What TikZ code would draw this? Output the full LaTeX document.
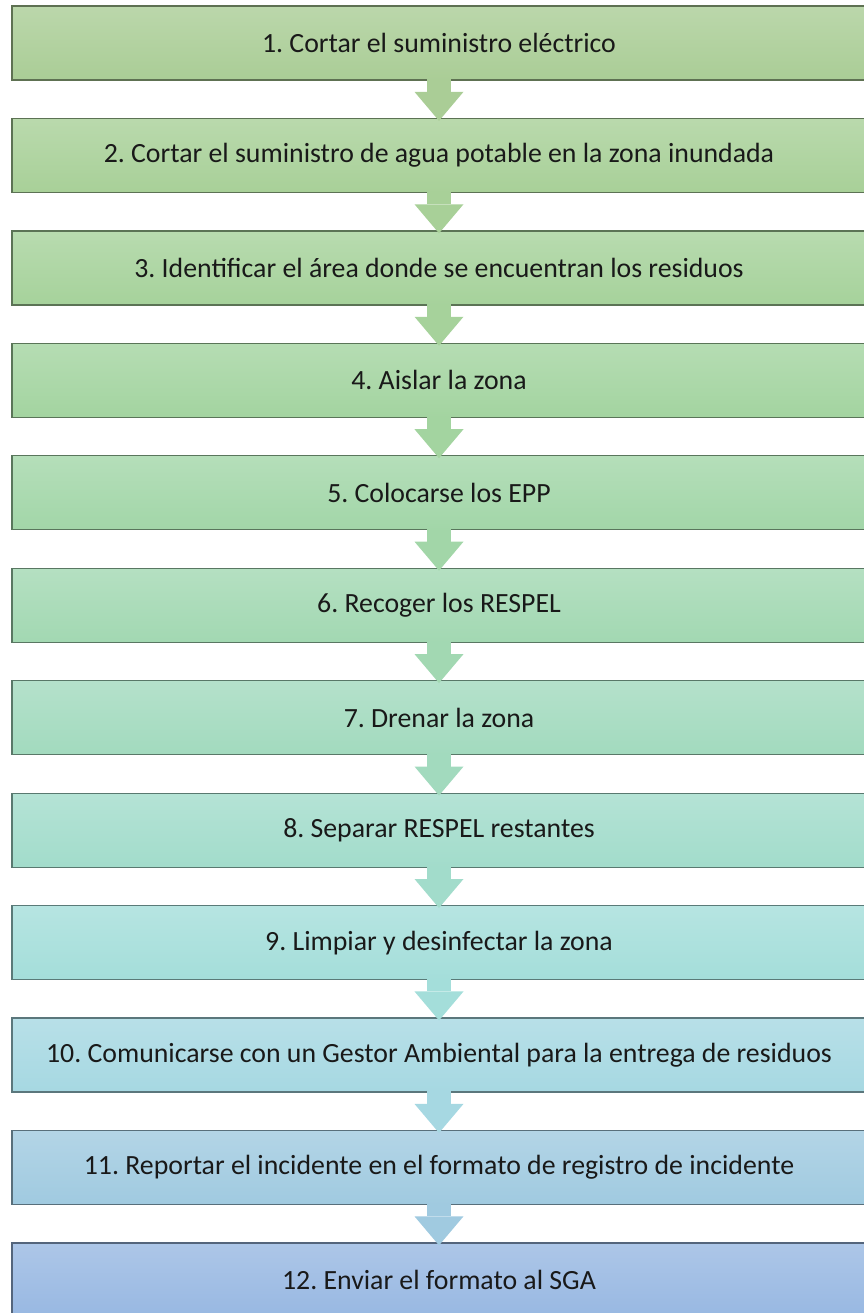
\documentclass[tikz,border=0pt]{standalone}
\usepackage{fontspec}
\setmainfont{Carlito}
\frenchspacing
\usetikzlibrary{arrows.meta}
\definecolor{paso1}{RGB}{170,205,150}
\definecolor{paso2}{RGB}{168,208,152}
\definecolor{paso3}{RGB}{166,210,155}
\definecolor{paso4}{RGB}{163,212,160}
\definecolor{paso5}{RGB}{162,214,168}
\definecolor{paso6}{RGB}{162,216,178}
\definecolor{paso7}{RGB}{162,218,190}
\definecolor{paso8}{RGB}{162,220,203}
\definecolor{paso9}{RGB}{164,222,218}
\definecolor{paso10}{RGB}{166,216,226}
\definecolor{paso11}{RGB}{160,202,224}
\definecolor{paso12}{RGB}{152,184,226}
\begin{document}
\begin{tikzpicture}[x=0.5pt,y=-0.5pt,
  paso/.style={draw=#1!55!black,line width=0.6pt,top color=#1!80!white,bottom color=#1,minimum width=427pt,minimum height=37pt,inner sep=0pt,font=\fontsize{13.9}{15}\selectfont,text=black!90},
  flecha/.style={draw=#1,line width=12pt,-{Triangle[width=24.5pt,length=14.5pt,line width=0pt]}}]
\useasboundingbox (0,0) rectangle (863,1313);
\foreach \i/\txt in {1/1. Cortar el suministro eléctrico,
  2/2. Cortar el suministro de agua potable en la zona inundada,
  3/3. Identificar el área donde se encuentran los residuos,
  4/4. Aislar la zona,
  5/5. Colocarse los EPP,
  6/6. Recoger los RESPEL,
  7/7. Drenar la zona,
  8/8. Separar RESPEL restantes,
  9/9. Limpiar y desinfectar la zona,
  10/10. Comunicarse con un Gestor Ambiental para la entrega de residuos,
  11/11. Reportar el incidente en el formato de registro de incidente,
  12/12. Enviar el formato al SGA} {
  \node[paso=paso\i] (paso\i) at (439,{43+(\i-1)*112.45}) {\txt};
}
% flechas entre pasos
\foreach \i [evaluate=\i as \j using int(\i+1)] in {1,...,11} {
  \draw[flecha=paso\i] ([yshift=1pt]paso\i.south) -- ([yshift=-1.5pt]paso\j.north);
}
\end{tikzpicture}
\end{document}
